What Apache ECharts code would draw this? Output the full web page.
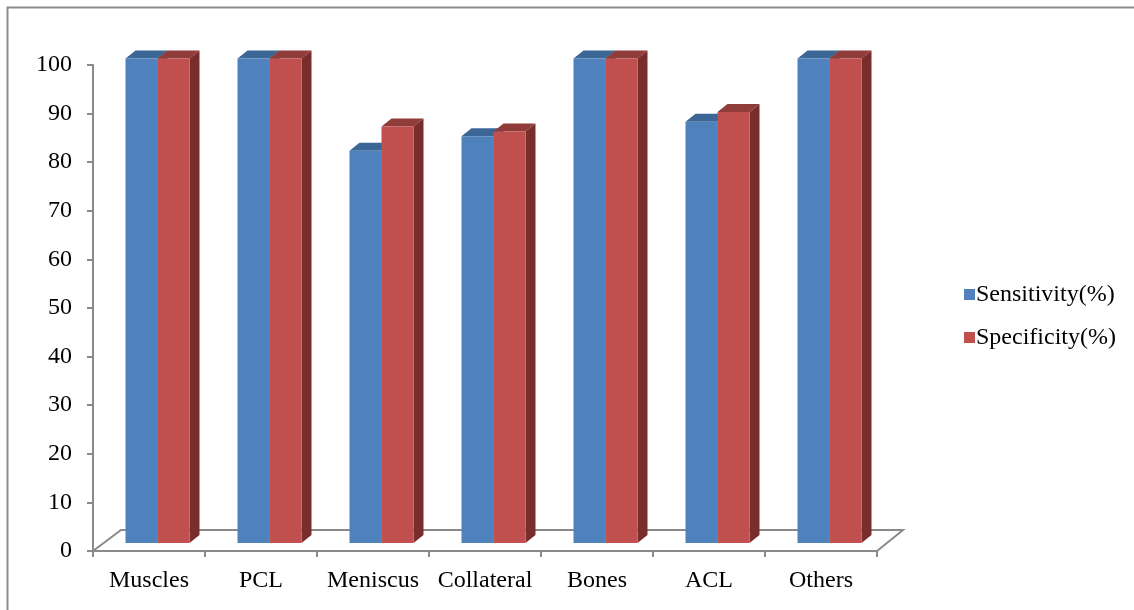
<!DOCTYPE html>
<html>
<head>
<meta charset="utf-8">
<title>Sensitivity and Specificity</title>
<script src="https://cdn.jsdelivr.net/npm/echarts@6/dist/echarts.min.js"></script>
<style>
  html, body { margin: 0; padding: 0; background: #ffffff; }
  #chart { width: 1134px; height: 610px; }
</style>
</head>
<body>
<div id="chart"></div>
<script>
// Chart data
var categories = ['Muscles', 'PCL', 'Meniscus', 'Collateral', 'Bones', 'ACL', 'Others'];
var sensitivity = [100, 100, 81, 84, 100, 87, 100];
var specificity = [100, 100, 86, 85, 100, 89, 100];
var seriesNames = ['Sensitivity(%)', 'Specificity(%)'];
var yTicks = { min: 0, max: 100, interval: 10 };

// Shading for the pseudo-3D bar faces
var palette = [
  { front: '#4F81BD', top: '#3C6696', side: '#385D8A' },
  { front: '#C0504D', top: '#903C3A', side: '#772E2C' }
];

var FONT = 'Liberation Serif, Times New Roman, serif';
var FONT_SIZE = 24;
var AXIS_GRAY = '#8A8A8A';

// depth of the bars and of the floor, in pixels
var BAR_DX = 10, BAR_DY = -8;
var FACE_SHIFT_X = 8.5, FACE_SHIFT_Y = -8;
var FLOOR_DX = 28, FLOOR_DY = -21;

function makeBarRenderer(slot) {
  var c = palette[slot];
  return function (params, api) {
    var cat = api.value(0);
    var val = api.value(1);
    var base = api.coord([cat, 0]);
    var top = api.coord([cat, val]);
    var band = api.size([1, 0])[0];
    var w = band * 32 / 112;
    var cx = base[0] + FACE_SHIFT_X;
    var x0 = slot === 0 ? cx - w : cx;
    var ty = top[1] + FACE_SHIFT_Y + 1.5;
    var by = base[1] + FACE_SHIFT_Y;
    return {
      type: 'group',
      children: [
        {
          type: 'polygon',
          shape: { points: [[x0 + w, ty], [x0 + w + BAR_DX, ty + BAR_DY], [x0 + w + BAR_DX, by + BAR_DY], [x0 + w, by]] },
          style: { fill: c.side }
        },
        {
          type: 'polygon',
          shape: { points: [[x0, ty], [x0 + BAR_DX, ty + BAR_DY], [x0 + w + BAR_DX, ty + BAR_DY], [x0 + w, ty]] },
          style: { fill: c.top }
        },
        {
          type: 'rect',
          shape: { x: x0, y: ty, width: w, height: by - ty },
          style: { fill: c.front }
        }
      ]
    };
  };
}

// floor outline behind the category axis
function renderFloor(params, api) {
  var base = api.coord([0, 0]);
  var band = api.size([1, 0])[0];
  var left = base[0] - band / 2;
  var right = left + band * categories.length;
  var y = base[1];
  return {
    type: 'polyline',
    shape: { points: [[left, y], [left + FLOOR_DX, y + FLOOR_DY], [right + FLOOR_DX - 2, y + FLOOR_DY], [right, y]] },
    style: { stroke: AXIS_GRAY, lineWidth: 2, fill: null }
  };
}

var chart = echarts.init(document.getElementById('chart'), null, { renderer: 'canvas' });

var option = {
  animation: false,
  backgroundColor: '#ffffff',
  graphic: [{
    type: 'rect',
    left: 5, top: 5,
    shape: { width: 1150, height: 630 },
    style: { fill: null, stroke: '#8C8C8C', lineWidth: 2 },
    silent: true
  }],
  legend: {
    orient: 'vertical',
    left: 959,
    top: 277,
    itemWidth: 11,
    itemHeight: 11,
    itemGap: 18,
    icon: 'rect',
    data: seriesNames,
    textStyle: { fontFamily: FONT, fontSize: FONT_SIZE, color: '#000', lineHeight: 25, padding: [0, 0, 0, -4] }
  },
  grid: { left: 93, right: 257, top: 65, bottom: 59 },
  xAxis: {
    type: 'category',
    data: categories,
    axisLine: { lineStyle: { color: AXIS_GRAY, width: 2 } },
    axisTick: { show: true, interval: 0, length: 6, lineStyle: { color: AXIS_GRAY, width: 2 } },
    axisLabel: { interval: 0, margin: 18, fontFamily: FONT, fontSize: FONT_SIZE, color: '#000' },
    splitLine: { show: false }
  },
  yAxis: {
    type: 'value',
    min: yTicks.min,
    max: yTicks.max,
    interval: yTicks.interval,
    axisLine: { show: true, lineStyle: { color: AXIS_GRAY, width: 2 } },
    axisTick: { show: true, length: 6, lineStyle: { color: AXIS_GRAY, width: 2 } },
    axisLabel: { margin: 21, fontFamily: FONT, fontSize: FONT_SIZE, color: '#000' },
    splitLine: { show: false }
  },
  series: [
    {
      name: 'floor',
      type: 'custom',
      z: 1,
      renderItem: renderFloor,
      data: [[0, 0]],
      silent: true
    },
    {
      name: seriesNames[0],
      type: 'custom',
      z: 2,
      itemStyle: { color: palette[0].front },
      renderItem: makeBarRenderer(0),
      encode: { x: 0, y: 1 },
      data: sensitivity.map(function (v, i) { return [i, v]; })
    },
    {
      name: seriesNames[1],
      type: 'custom',
      z: 3,
      itemStyle: { color: palette[1].front },
      renderItem: makeBarRenderer(1),
      encode: { x: 0, y: 1 },
      data: specificity.map(function (v, i) { return [i, v]; })
    }
  ]
};

chart.setOption(option);
</script>
</body>
</html>
